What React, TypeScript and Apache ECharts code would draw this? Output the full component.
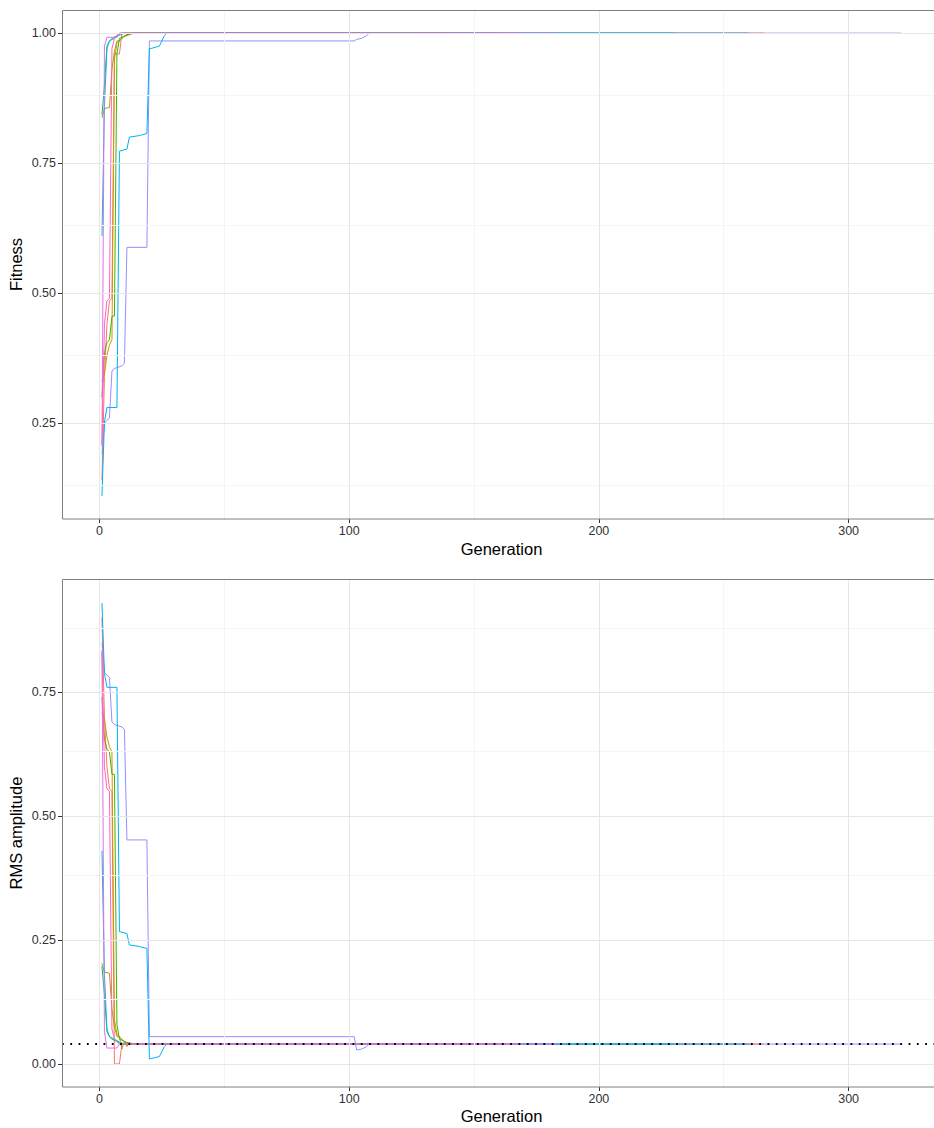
import React, { useEffect, useRef } from "react";
import * as echarts from "echarts";

type Pt = [number, number];

// One colour per GA run (ggplot hue palette, 10 levels)
const runColors = [
  "#F8766D", "#D89000", "#A3A500", "#39B600", "#00BF7D",
  "#00BFC4", "#00B0F6", "#9590FF", "#E76BF3", "#FF62BC",
];

// Best fitness per run: [generation, fitness] vertices
const fitnessRun1: Pt[] = [[1, 0.14], [2, 0.34], [3, 0.44], [4, 0.485], [5, 0.49], [6, 0.96], [8, 0.96], [9, 1.0], [266, 1.0]];
const fitnessRun2: Pt[] = [[1, 0.33], [2, 0.345], [3, 0.38], [4, 0.4], [5, 0.41], [6, 0.95], [7, 0.98], [8, 0.985], [10, 0.995], [13, 1.0], [140, 1.0]];
const fitnessRun3: Pt[] = [[1, 0.837], [2, 0.855], [4, 0.857], [5, 0.93], [6, 0.965], [7, 0.985], [8, 0.985], [9, 0.99], [10, 0.994], [11, 0.995], [12, 0.997], [14, 1.0], [150, 1.0]];
const fitnessRun4: Pt[] = [[1, 0.3], [2, 0.385], [3, 0.405], [4, 0.41], [5, 0.455], [6, 0.456], [7, 0.96], [8, 0.99], [9, 0.992], [11, 0.997], [13, 1.0], [125, 1.0]];
const fitnessRun5: Pt[] = [[1, 0.843], [2, 0.9], [3, 0.975], [4, 0.985], [5, 0.99], [7, 0.995], [9, 1.0], [160, 1.0]];
const fitnessRun6: Pt[] = [[1, 0.61], [2, 0.86], [3, 0.97], [4, 0.985], [6, 0.99], [8, 0.996], [10, 1.0], [230, 1.0]];
const fitnessRun7: Pt[] = [[1, 0.11], [2, 0.252], [3, 0.28], [7, 0.28], [8, 0.773], [11, 0.777], [12, 0.8], [16, 0.803], [19, 0.807], [20, 0.97], [21, 0.971], [24, 0.975], [25, 0.985], [26, 0.995], [27, 1.0], [260, 1.0]];
const fitnessRun8: Pt[] = [[1, 0.19], [2, 0.25], [3, 0.255], [4, 0.26], [5, 0.35], [6, 0.355], [9, 0.36], [10, 0.365], [11, 0.588], [19, 0.588], [20, 0.985], [102, 0.985], [103, 0.988], [105, 0.99], [107, 0.995], [108, 1.0], [321, 1.0]];
const fitnessRun9: Pt[] = [[1, 0.205], [2, 0.975], [3, 0.992], [7, 0.992], [8, 1.0], [183, 1.0]];
const fitnessRun10: Pt[] = [[1, 0.21], [2, 0.44], [3, 0.485], [4, 0.49], [5, 0.97], [6, 0.99], [7, 0.995], [8, 1.0], [167, 1.0]];

// RMS amplitude of the best individual per run: [generation, rms] vertices
const rmsRun1: Pt[] = [[1, 0.9], [2, 0.7], [3, 0.6], [4, 0.555], [5, 0.55], [6, 0.0], [8, 0.0], [9, 0.04], [266, 0.04]];
const rmsRun2: Pt[] = [[1, 0.71], [2, 0.695], [3, 0.66], [4, 0.64], [5, 0.63], [6, 0.09], [7, 0.06], [8, 0.055], [10, 0.045], [13, 0.04], [140, 0.04]];
const rmsRun3: Pt[] = [[1, 0.203], [2, 0.185], [4, 0.183], [5, 0.11], [6, 0.075], [7, 0.055], [8, 0.055], [9, 0.03], [10, 0.046], [11, 0.035], [12, 0.043], [14, 0.04], [150, 0.04]];
const rmsRun4: Pt[] = [[1, 0.74], [2, 0.655], [3, 0.635], [4, 0.63], [5, 0.585], [6, 0.584], [7, 0.08], [8, 0.05], [9, 0.048], [11, 0.043], [13, 0.04], [125, 0.04]];
const rmsRun5: Pt[] = [[1, 0.197], [2, 0.14], [3, 0.065], [4, 0.055], [5, 0.05], [7, 0.045], [9, 0.04], [160, 0.04]];
const rmsRun6: Pt[] = [[1, 0.43], [2, 0.18], [3, 0.07], [4, 0.055], [6, 0.05], [8, 0.044], [10, 0.04], [230, 0.04]];
const rmsRun7: Pt[] = [[1, 0.93], [2, 0.788], [3, 0.76], [7, 0.76], [8, 0.267], [11, 0.263], [12, 0.24], [16, 0.237], [19, 0.233], [20, 0.01], [21, 0.011], [24, 0.015], [25, 0.025], [26, 0.035], [27, 0.04], [260, 0.04]];
const rmsRun8: Pt[] = [[1, 0.85], [2, 0.79], [3, 0.785], [4, 0.78], [5, 0.69], [6, 0.685], [9, 0.68], [10, 0.675], [11, 0.452], [19, 0.452], [20, 0.055], [102, 0.055], [103, 0.028], [105, 0.03], [107, 0.035], [108, 0.04], [321, 0.04]];
const rmsRun9: Pt[] = [[1, 0.835], [2, 0.065], [3, 0.032], [7, 0.032], [8, 0.04], [183, 0.04]];
const rmsRun10: Pt[] = [[1, 0.83], [2, 0.6], [3, 0.555], [4, 0.55], [5, 0.07], [6, 0.05], [7, 0.045], [8, 0.04], [167, 0.04]];

const fitnessRuns = [fitnessRun1, fitnessRun2, fitnessRun3, fitnessRun4, fitnessRun5, fitnessRun6, fitnessRun7, fitnessRun8, fitnessRun9, fitnessRun10];
const rmsRuns = [rmsRun1, rmsRun2, rmsRun3, rmsRun4, rmsRun5, rmsRun6, rmsRun7, rmsRun8, rmsRun9, rmsRun10];

// Target RMS amplitude (dotted reference line)
const rmsTarget = 0.04;

// Axis breaks
const generationTicks = [0, 100, 200, 300];
const generationMinor = [50, 150, 250];
const fitnessTicks = [0.25, 0.5, 0.75, 1.0];
const fitnessMinor = [0.125, 0.375, 0.625, 0.875];
const rmsTicks = [0, 0.25, 0.5, 0.75];
const rmsMinor = [0.125, 0.375, 0.625, 0.875];

// Visible axis limits
const generationRange = [-15, 334.2];
const fitnessRange = [0.0655, 1.0445];
const rmsRange = [-0.0466, 0.9786];

const FONT = "'Liberation Sans', Arial, Helvetica, sans-serif";
const TEXT_COLOR = "#333333";
const MAJOR = { color: "#E6E6E6", width: 1, type: "solid" };
const MINOR = { color: "#F5F5F5", width: 1, type: "solid" };

const PANEL_LEFT = 62;
const PANEL_WIDTH = 872;
const TOP_PANEL = { top: 10, height: 509 };
const BOTTOM_PANEL = { top: 579, height: 508 };

function gridBox(p: { top: number; height: number }) {
  return { left: PANEL_LEFT, top: p.top, width: PANEL_WIDTH, height: p.height, show: false, containLabel: false };
}

// Grey panel frame; its right edge runs past the page
function panelFrame(p: { top: number; height: number }) {
  return {
    type: "rect",
    silent: true,
    z: 50,
    shape: { x: PANEL_LEFT + 0.5, y: p.top + 0.5, width: PANEL_WIDTH + 10, height: p.height - 0.5 },
    style: { fill: "none", stroke: "#7F7F7F", lineWidth: 1 },
  };
}

function xAxisFor(gridIndex: number) {
  return {
    type: "value",
    gridIndex,
    min: generationRange[0],
    max: generationRange[1],
    axisLine: { show: false, onZero: false },
    splitLine: { show: false },
    axisTick: { show: true, customValues: generationTicks, length: 4, lineStyle: { color: TEXT_COLOR, width: 1 } },
    axisLabel: { customValues: generationTicks, color: TEXT_COLOR, fontSize: 12.5, margin: 5, fontFamily: FONT },
  };
}

function yAxisFor(gridIndex: number, range: number[], ticks: number[]) {
  return {
    type: "value",
    gridIndex,
    min: range[0],
    max: range[1],
    axisLine: { show: false, onZero: false },
    splitLine: { show: false },
    axisTick: { show: true, customValues: ticks, length: 4, lineStyle: { color: TEXT_COLOR, width: 1 } },
    axisLabel: {
      customValues: ticks,
      color: TEXT_COLOR,
      fontSize: 12.5,
      margin: 6,
      fontFamily: FONT,
      formatter: (v: number) => v.toFixed(2),
    },
  };
}

// Major and minor background grid lines of one panel
function gridLines(axisIndex: number, yRange: number[], yMinor: number[], yMajor: number[]) {
  const data: any[] = [
    ...generationMinor.map((v) => ({ xAxis: v, lineStyle: MINOR })),
    ...yMinor.filter((v) => v > yRange[0]).map((v) => ({ yAxis: v, lineStyle: MINOR })),
    ...generationTicks.map((v) => ({ xAxis: v, lineStyle: MAJOR })),
    ...yMajor.map((v) => ({ yAxis: v, lineStyle: MAJOR })),
  ];
  return {
    type: "line",
    xAxisIndex: axisIndex,
    yAxisIndex: axisIndex,
    data: [],
    silent: true,
    z: 1,
    markLine: { silent: true, symbol: ["none", "none"], label: { show: false }, data },
  };
}

function runSeries(runs: Pt[][], axisIndex: number) {
  return runs.map((data, i) => ({
    type: "line",
    name: `run ${i + 1}`,
    xAxisIndex: axisIndex,
    yAxisIndex: axisIndex,
    data,
    symbol: "none",
    showSymbol: false,
    silent: true,
    // the longest run sits just beneath the others where they coincide
    z: i === 7 ? 2 : 3,
    lineStyle: { color: runColors[i], width: 1 },
    itemStyle: { color: runColors[i] },
  }));
}

function axisTitle(text: string, x: number, y: number, vertical: boolean) {
  return {
    type: "text",
    x,
    y,
    rotation: vertical ? Math.PI / 2 : 0,
    style: {
      text,
      fill: "#000000",
      fontSize: 16.5,
      fontFamily: FONT,
      align: "center",
      verticalAlign: "middle",
    },
  };
}

export default function App() {
  const ref = useRef<HTMLDivElement>(null);

  useEffect(() => {
    if (!ref.current) return;
    const chart = echarts.init(ref.current, undefined, { renderer: "svg" });
    chart.setOption({
      animation: false,
      backgroundColor: "#FFFFFF",
      grid: [gridBox(TOP_PANEL), gridBox(BOTTOM_PANEL)],
      xAxis: [xAxisFor(0), xAxisFor(1)],
      yAxis: [yAxisFor(0, fitnessRange, fitnessTicks), yAxisFor(1, rmsRange, rmsTicks)],
      series: [
        gridLines(0, fitnessRange, fitnessMinor, fitnessTicks),
        gridLines(1, rmsRange, rmsMinor, rmsTicks),
        ...runSeries(fitnessRuns, 0),
        ...runSeries(rmsRuns, 1),
        {
          type: "line",
          xAxisIndex: 1,
          yAxisIndex: 1,
          data: [],
          silent: true,
          z: 4,
          markLine: {
            silent: true,
            symbol: ["none", "none"],
            label: { show: false },
            data: [{ yAxis: rmsTarget, lineStyle: { color: "#000000", width: 1.8, type: [1.8, 6.5] } }],
          },
        },
      ],
      graphic: [
        panelFrame(TOP_PANEL),
        panelFrame(BOTTOM_PANEL),
        axisTitle("Generation", 501.5, 549, false),
        axisTitle("Fitness", 16, 264.5, true),
        axisTitle("Generation", 501.5, 1116, false),
        axisTitle("RMS amplitude", 16, 833, true),
      ],
    });
    return () => chart.dispose();
  }, []);

  return (
    <div
      ref={ref}
      style={{ position: "fixed", left: 0, top: 0, width: 934, height: 1128 }}
    />
  );
}
